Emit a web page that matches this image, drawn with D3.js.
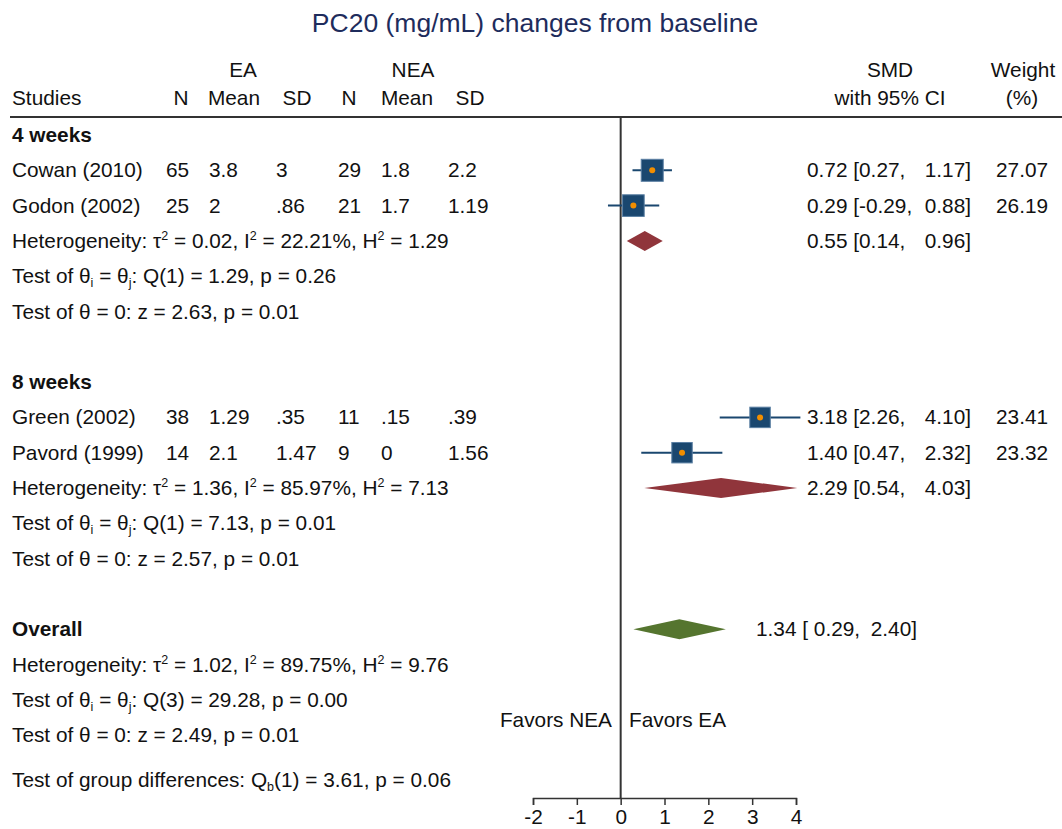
<!DOCTYPE html>
<html><head><meta charset="utf-8">
<script src="https://cdn.jsdelivr.net/npm/d3@7"></script>
<style>
body{margin:0;background:#fff;}
text{font-family:"Liberation Sans",Arial,sans-serif;fill:#111;}
</style></head>
<body><svg id="c" width="1062" height="829"></svg>
<script>
// ---- data ----
const studies   = ["Cowan (2010)", "Godon (2002)", "Green (2002)", "Pavord (1999)"];
const studyGrp  = [0, 0, 1, 1];
const eaN       = ["65", "25", "38", "14"];
const eaMean    = ["3.8", "2", "1.29", "2.1"];
const eaSD      = ["3", ".86", ".35", "1.47"];
const neaN      = ["29", "21", "11", "9"];
const neaMean   = ["1.8", "1.7", ".15", "0"];
const neaSD     = ["2.2", "1.19", ".39", "1.56"];
const smd       = [0.72, 0.29, 3.18, 1.40];
const ciLo      = [0.27, -0.29, 2.26, 0.47];
const ciHi      = [1.17, 0.88, 4.10, 2.32];
const weight    = ["27.07", "26.19", "23.41", "23.32"];

const groups    = ["4 weeks", "8 weeks"];
const grpSMD    = [0.55, 2.29];
const grpLo     = [0.14, 0.54];
const grpHi     = [0.96, 4.03];
const grpTau2   = ["0.02", "1.36"];
const grpI2     = ["22.21", "85.97"];
const grpH2     = ["1.29", "7.13"];
const grpQ      = ["1.29", "7.13"];
const grpDf     = ["1", "1"];
const grpQp     = ["0.26", "0.01"];
const grpZ      = ["2.63", "2.57"];
const grpZp     = ["0.01", "0.01"];

const overallSMD = 1.34, overallLo = 0.29, overallHi = 2.40;
const overallStats = {tau2:"1.02", I2:"89.75", H2:"9.76", Q:"29.28", df:"3", Qp:"0.00", z:"2.49", zp:"0.01"};
const groupDiff = {df:"1", Q:"3.61", p:"0.06"};

const xTicks = [-2, -1, 0, 1, 2, 3, 4];

// ---- drawing ----
const svg = d3.select("#c");
const x = d3.scaleLinear().domain([-2, 4]).range([533, 796]);
const row = d3.scaleLinear().domain([0, 1]).range([142, 177.3]); // baseline of row
const navy = "#1a476f", orange = "#f28e00", maroon = "#90353b", green = "#55752f";
const FS = 20.8;
const loc = d3.formatLocale({decimal: ".", thousands: ",", grouping: [3], currency: ["", ""], minus: "-"});
const f2 = loc.format(".2f");
const fd = loc.format("d");

function txt(xp, yp, s, opt = {}) {
  const t = svg.append("text").attr("x", xp).attr("y", yp)
    .style("font-size", (opt.size || FS) + "px")
    .attr("text-anchor", opt.anchor || "start");
  if (opt.bold) t.style("font-weight", "bold");
  if (opt.fill) t.style("fill", opt.fill);
  if (typeof s === "string") t.text(s);
  else s.forEach(p => {
    const ts = t.append("tspan").text(p.t);
    if (p.sup) ts.attr("dy", -8).style("font-size", "12.5px");
    if (p.sub) ts.attr("dy", 4).style("font-size", "12.5px");
    if (p.reset) ts.attr("dy", p.reset);
  });
  return t;
}

// title
txt(535, 32, "PC20 (mg/mL) changes from baseline", {anchor: "middle", size: 26.5, fill: "#1e2c5c"});

// header
txt(243, 77, "EA", {anchor: "middle"});
txt(413, 77, "NEA", {anchor: "middle"});
txt(12, 105, "Studies");
txt(181, 105, "N", {anchor: "middle"});
txt(234, 105, "Mean", {anchor: "middle"});
txt(297, 105, "SD", {anchor: "middle"});
txt(349, 105, "N", {anchor: "middle"});
txt(407, 105, "Mean", {anchor: "middle"});
txt(470, 105, "SD", {anchor: "middle"});
txt(890, 77, "SMD", {anchor: "middle"});
txt(890, 105, "with 95% CI", {anchor: "middle"});
txt(1023, 77, "Weight", {anchor: "middle"});
txt(1022, 105, "(%)", {anchor: "middle"});
svg.append("line").attr("x1", 10).attr("x2", 1062).attr("y1", 117).attr("y2", 117)
  .attr("stroke", "#333").attr("stroke-width", 2);

// zero line
svg.append("line").attr("x1", x(0)).attr("x2", x(0)).attr("y1", 117).attr("y2", 798)
  .attr("stroke", "#333").attr("stroke-width", 2);

function ciText(r, est, lo, hi, x0, xr, pad) {
  txt(x0, row(r), f2(est) + " [" + (pad && lo >= 0 ? " " : "") + f2(lo) + ",");
  txt(xr, row(r), f2(hi) + "]", {anchor: "end"});
}
function diamond(r, est, lo, hi, col) {
  const cy = row(r) - 7, h = 10;
  svg.append("path")
    .attr("d", `M${x(lo)},${cy}L${x(est)},${cy - h}L${x(hi)},${cy}L${x(est)},${cy + h}Z`)
    .attr("fill", col);
}
function hetLines(r0, s) {
  txt(12, row(r0), [{t: "Heterogeneity: τ"}, {t: "2", sup: 1}, {t: " = " + s.tau2 + ", I", reset: 8},
    {t: "2", sup: 1}, {t: " = " + s.I2 + "%, H", reset: 8}, {t: "2", sup: 1}, {t: " = " + s.H2, reset: 8}]);
  txt(12, row(r0 + 1), [{t: "Test of θ"}, {t: "i", sub: 1}, {t: " = θ", reset: -4}, {t: "j", sub: 1},
    {t: ": Q(" + s.df + ") = " + s.Q + ", p = " + s.Qp, reset: -4}]);
  txt(12, row(r0 + 2), "Test of θ = 0: z = " + s.z + ", p = " + s.zp);
}

const colX = [166, 209, 276, 338, 381, 448];
const sqK = 22 / Math.sqrt(27.07);
groups.forEach((g, gi) => {
  const base = gi * 7;
  txt(12, row(base), g, {bold: true});
  const idx = studies.map((s, i) => i).filter(i => studyGrp[i] === gi);
  idx.forEach((i, k) => {
    const r = base + 1 + k, yb = row(r), cy = yb - 7;
    txt(12, yb, studies[i]);
    [eaN[i], eaMean[i], eaSD[i], neaN[i], neaMean[i], neaSD[i]].forEach((v, c) => txt(colX[c], yb, v));
    svg.append("line").attr("x1", x(ciLo[i])).attr("x2", x(ciHi[i])).attr("y1", cy).attr("y2", cy)
      .attr("stroke", navy).attr("stroke-width", 2);
    const side = sqK * Math.sqrt(+weight[i]);
    svg.append("rect").attr("x", x(smd[i]) - side / 2).attr("y", cy - side / 2)
      .attr("width", side).attr("height", side).attr("fill", navy)
      .attr("stroke", "#5a7fa3").attr("stroke-width", 1);
    svg.append("circle").attr("cx", x(smd[i])).attr("cy", cy).attr("r", 3).attr("fill", orange);
    ciText(r, smd[i], ciLo[i], ciHi[i], 807, 971, false);
    txt(996, yb, weight[i]);
  });
  const hr = base + 3;
  diamond(hr, grpSMD[gi], grpLo[gi], grpHi[gi], maroon);
  ciText(hr, grpSMD[gi], grpLo[gi], grpHi[gi], 807, 971, false);
  hetLines(hr, {tau2: grpTau2[gi], I2: grpI2[gi], H2: grpH2[gi], Q: grpQ[gi], df: grpDf[gi], Qp: grpQp[gi], z: grpZ[gi], zp: grpZp[gi]});
});

// overall
txt(12, row(14), "Overall", {bold: true});
diamond(14, overallSMD, overallLo, overallHi, green);
ciText(14, overallSMD, overallLo, overallHi, 756, 917, true);
hetLines(15, overallStats);

txt(12, 787, [{t: "Test of group differences: Q"}, {t: "b", sub: 1},
  {t: "(" + groupDiff.df + ") = " + groupDiff.Q + ", p = " + groupDiff.p, reset: -4}]);

// favors
txt(612, 727, "Favors NEA", {anchor: "end"});
txt(629, 727, "Favors EA");

// axis
const ax = svg.append("g").attr("transform", "translate(0,798)")
  .call(d3.axisBottom(x).tickValues(xTicks).tickSize(7).tickPadding(4).tickFormat(fd));
ax.select(".domain").attr("stroke", "#333").attr("stroke-width", 1.5);
ax.selectAll(".tick line").attr("stroke", "#333").attr("stroke-width", 1.5);
ax.selectAll(".tick text").style("font-size", "20.8px").style("font-family", "Liberation Sans, Arial, sans-serif").attr("fill", "#111");
</script></body></html>
